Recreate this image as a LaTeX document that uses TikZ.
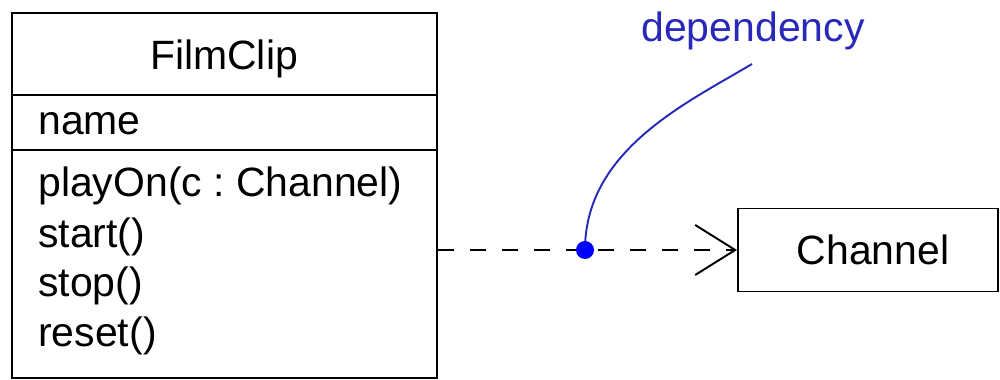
\documentclass[tikz,border=0pt]{standalone}
\usepackage{fontspec}
\setmainfont{Liberation Sans}
\usetikzlibrary{arrows.meta,positioning}
\definecolor{depblue}{RGB}{40,40,185}

\begin{document}
\frenchspacing
\begin{tikzpicture}[
    classbox/.style={draw, line width=1.1pt, inner sep=0pt},
    member/.style={anchor=base west, inner sep=0pt},
    deplink/.style={line width=1.1pt, dash pattern=on 0.32cm off 0.32cm, -{Straight Barb[length=8mm,width=10mm]}},
    note/.style={depblue, line width=1.1pt}
]
\useasboundingbox (0,0) rectangle (20,7.6);
\fontsize{23.3pt}{28.5pt}\selectfont
\node[classbox, minimum width=8.5cm, minimum height=7.3cm] (filmclip) at (4.49,3.69) {};
\draw[line width=1.1pt] (filmclip.west |- 0,5.7) -- (filmclip.east |- 0,5.7);
\draw[line width=1.1pt] (filmclip.west |- 0,4.6) -- (filmclip.east |- 0,4.6);
\node[anchor=base, inner sep=0pt] (title) at (4.48,6.2) {FilmClip};
\node[member] (attrname) at (0.76,4.9) {name};
\node[member] (playon) at (0.76,3.66) {playOn(c : Channel)};
\node[member] (start) at (0.76,2.64) {start()};
\node[member] (stop) at (0.76,1.66) {stop()};
\node[member] (reset) at (0.76,0.66) {reset()};
\node[classbox, minimum width=5.2cm, minimum height=1.66cm] (channel) at (17.36,2.6) {\hspace{0.2cm}Channel};
\draw[deplink] (filmclip.east |- channel.west) -- (channel.west);
% dependency note
\coordinate (dep) at (11.7,2.6);
\node[depblue, anchor=base, inner sep=0pt] (deplabel) at (15.06,6.76) {dependency};
\coordinate (depend) at (15.04,6.32);
\draw[note] (dep) .. controls (11.7,4.6) and (13.75,5.55) .. (depend);
\fill[blue] (dep) circle (0.18);
\end{tikzpicture}
\end{document}
